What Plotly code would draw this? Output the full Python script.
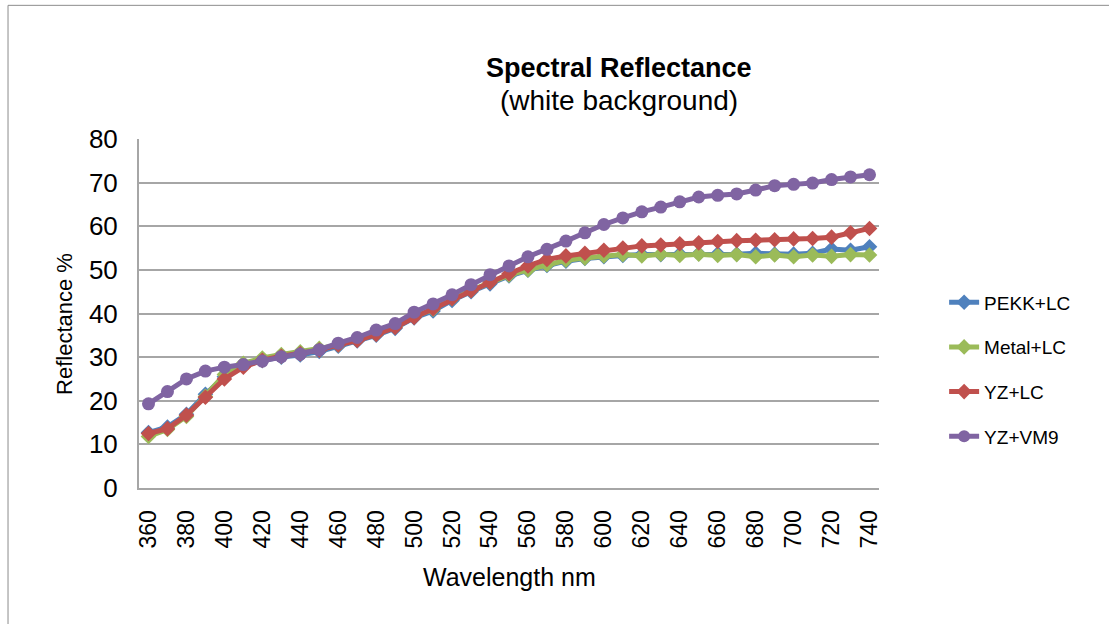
import plotly.graph_objects as go

wavelength = list(range(360, 741, 10))

pekk_lc = [12.7, 14.0, 16.9, 21.5, 25.5, 28.0, 29.2, 30.0, 30.5, 31.3, 32.5, 33.7, 35.0, 36.6, 39.0,
           40.6, 43.0, 45.0, 46.8, 48.6, 49.9, 51.0, 52.0, 52.6, 53.0, 53.3, 53.5, 53.5, 53.6, 53.7,
           53.7, 53.6, 53.8, 53.6, 53.6, 53.8, 54.8, 54.5, 55.3]
metal_lc = [11.8, 13.4, 16.4, 21.0, 26.0, 28.6, 29.8, 30.6, 31.2, 32.0, 32.8, 34.0, 35.3, 37.0, 39.3,
            41.0, 43.4, 45.3, 47.2, 48.8, 50.0, 51.2, 52.2, 52.7, 53.2, 53.5, 53.2, 53.6, 53.3, 53.6,
            53.3, 53.5, 53.0, 53.4, 53.0, 53.4, 53.1, 53.5, 53.4]
yz_lc = [12.5, 13.6, 16.7, 20.8, 25.0, 27.7, 29.3, 30.2, 30.8, 31.6, 32.8, 33.8, 35.2, 36.8, 39.1,
         41.1, 43.4, 45.2, 47.1, 49.1, 50.9, 52.4, 53.2, 53.8, 54.5, 55.0, 55.5, 55.7, 56.0, 56.2,
         56.5, 56.7, 56.8, 56.9, 57.1, 57.2, 57.5, 58.5, 59.5]
yz_vm9 = [19.3, 22.1, 25.0, 26.8, 27.7, 28.3, 29.1, 30.1, 30.7, 31.7, 33.2, 34.5, 36.2, 37.7, 40.3,
          42.2, 44.3, 46.6, 48.9, 50.9, 53.0, 54.7, 56.6, 58.5, 60.4, 61.9, 63.3, 64.4, 65.6, 66.7,
          67.1, 67.4, 68.3, 69.3, 69.6, 69.9, 70.7, 71.3, 71.8]

series_names = ["PEKK+LC", "Metal+LC", "YZ+LC", "YZ+VM9"]
series_values = [pekk_lc, metal_lc, yz_lc, yz_vm9]
series_colors = ["#4F81BD", "#9BBB59", "#C0504D", "#8064A2"]
series_symbols = ["diamond", "diamond", "diamond", "circle"]
series_msize = [12, 12, 12, 13]

x_ticks = list(range(360, 741, 20))
y_ticks = list(range(0, 81, 10))

FONT = "Liberation Sans"

fig = go.Figure()
for name, vals, col, sym, ms in zip(series_names, series_values, series_colors, series_symbols, series_msize):
    fig.add_trace(go.Scatter(
        x=wavelength, y=vals, name=name, mode="lines+markers", legendgroup=name,
        line=dict(color=col, width=5),
        marker=dict(symbol=sym, size=ms, color=col),
    ))

fig.update_layout(
    width=1109, height=624,
    margin=dict(l=139, r=230, t=139, b=136),
    paper_bgcolor="white", plot_bgcolor="white",
    font=dict(family=FONT, color="black", size=20),
    showlegend=True,
    legend=dict(x=1.088, y=0.34, xanchor="left", yanchor="middle",
                font=dict(size=19, family=FONT), tracegroupgap=17, traceorder="grouped",
                itemsizing="constant", bgcolor="rgba(0,0,0,0)"),
    xaxis=dict(range=[355, 745], tickmode="array", tickvals=x_ticks,
               ticktext=[str(v) for v in x_ticks], tickangle=-90,
               showgrid=False, zeroline=False, showline=True, linecolor="#A6A6A6", linewidth=2,
               ticks="", tickfont=dict(size=23, family=FONT), ticklabelstandoff=11),
    yaxis=dict(range=[0, 80], tickmode="array", tickvals=y_ticks,
               showgrid=True, gridcolor="#A6A6A6", gridwidth=2, zeroline=False,
               showline=True, linecolor="#A6A6A6", linewidth=2, ticks="",
               tickfont=dict(size=26, family=FONT), ticklabelstandoff=14),
    annotations=[
        dict(text="<b>Spectral Reflectance</b>", xref="paper", yref="paper", x=0.6486, y=1.2023,
             showarrow=False, xanchor="center", yanchor="middle", font=dict(size=27, family=FONT)),
        dict(text="(white background)", xref="paper", yref="paper", x=0.6486, y=1.1105,
             showarrow=False, xanchor="center", yanchor="middle", font=dict(size=28, family=FONT)),
        dict(text="Wavelength nm", xref="paper", yref="paper", x=0.5, y=-0.2554,
             showarrow=False, xanchor="center", yanchor="middle", font=dict(size=25, family=FONT)),
        dict(text="Reflectance %", xref="paper", yref="paper", x=-0.1, y=0.47,
             textangle=-90, showarrow=False, xanchor="center", yanchor="middle",
             font=dict(size=22, family=FONT)),
    ],
    shapes=[dict(type="rect", xref="paper", yref="paper", x0=-0.177, x1=1.5, y0=-0.6, y1=1.383,
                 line=dict(color="#8C8C8C", width=1), fillcolor="rgba(0,0,0,0)", layer="below")],
)

fig.write_html("out.html")
